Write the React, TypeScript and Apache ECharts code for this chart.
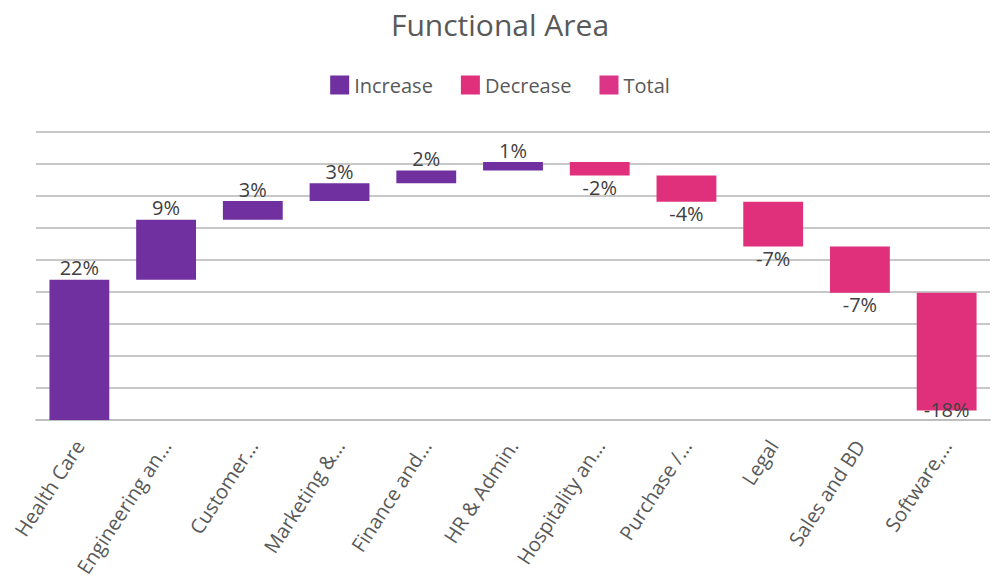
import React, { useEffect, useRef } from "react";
import * as echarts from "echarts";

const categories = [
  "Health Care",
  "Engineering an...",
  "Customer...",
  "Marketing &...",
  "Finance and...",
  "HR & Admin.",
  "Hospitality an...",
  "Purchase /...",
  "Legal",
  "Sales and BD",
  "Software,...",
];
const deltas = [21.9, 9.4, 2.9, 2.8, 2.0, 1.3, -2.1, -4.1, -7.0, -7.2, -18.4];
const yTicks = [0, 5, 10, 15, 20, 25, 30, 35, 40, 45];

const FONT = "'Open Sans', 'Noto Sans', sans-serif";
const C_INC = "#7030a0";
const C_DEC = "#e0307c";
const C_TOT = "#dc3587";

export default function App() {
  const ref = useRef<HTMLDivElement>(null);
  useEffect(() => {
    if (!ref.current) return;
    const chart = echarts.init(ref.current, undefined, { renderer: "svg" });
    const base: any[] = [];
    const inc: any[] = [];
    const dec: any[] = [];
    let cum = 0;
    deltas.forEach((d, i) => {
      if (d >= 0) {
        base.push(cum);
        inc.push(d);
        dec.push("-");
      } else {
        base.push(cum + d);
        inc.push("-");
        const item: any = { value: -d };
        if (i === deltas.length - 1) {
          item.label = { position: "insideBottom", distance: -9 };
        }
        dec.push(item);
      }
      cum += d;
    });
    const labelStyle = { fontFamily: FONT, fontSize: 20, color: "#404040" };
    chart.setOption({
      animation: false,
      title: {
        text: "Functional Area",
        left: "center",
        top: 4,
        textStyle: { fontFamily: FONT, fontSize: 30, fontWeight: "normal", color: "#595959" },
      },
      legend: {
        top: 70,
        left: "center",
        itemWidth: 19,
        itemHeight: 19,
        itemGap: 28,
        icon: "rect",
        data: ["Increase", "Decrease", "Total"],
        textStyle: { fontFamily: FONT, fontSize: 20, color: "#595959" },
      },
      grid: { left: 36, right: 10, top: 132, bottom: 167, containLabel: false },
      xAxis: {
        type: "category",
        data: categories,
        axisLine: { lineStyle: { color: "#bfbfbf", width: 2 } },
        axisTick: { show: false },
        axisLabel: {
          rotate: 57,
          interval: 0,
          margin: 22,
          fontFamily: FONT,
          fontSize: 20,
          color: "#595959",
        },
      },
      yAxis: {
        type: "value",
        min: yTicks[0],
        max: yTicks[yTicks.length - 1],
        interval: yTicks[1] - yTicks[0],
        axisLabel: { show: false },
        axisLine: { show: false },
        axisTick: { show: false },
        splitLine: { lineStyle: { color: "#c8c8c8", width: 2 } },
      },
      series: [
        {
          name: "base",
          type: "bar",
          stack: "w",
          barWidth: "69%",
          itemStyle: { color: "transparent" },
          emphasis: { disabled: true },
          data: base,
        },
        {
          name: "Increase",
          type: "bar",
          stack: "w",
          itemStyle: { color: C_INC },
          label: {
            show: true,
            position: "top",
            distance: 2,
            ...labelStyle,
            formatter: (p: any) => Math.round(p.value) + "%",
          },
          data: inc,
        },
        {
          name: "Decrease",
          type: "bar",
          stack: "w",
          itemStyle: { color: C_DEC },
          label: {
            show: true,
            position: "bottom",
            distance: 2,
            ...labelStyle,
            formatter: (p: any) => "-" + Math.round(p.value) + "%",
          },
          data: dec,
        },
        {
          name: "Total",
          type: "bar",
          stack: "w",
          itemStyle: { color: C_TOT },
          data: [],
        },
      ],
    });
    return () => chart.dispose();
  }, []);
  return (
    <div
      ref={ref}
      style={{ position: "fixed", left: 0, top: 0, width: 1000, height: 587, background: "#fff" }}
    />
  );
}
